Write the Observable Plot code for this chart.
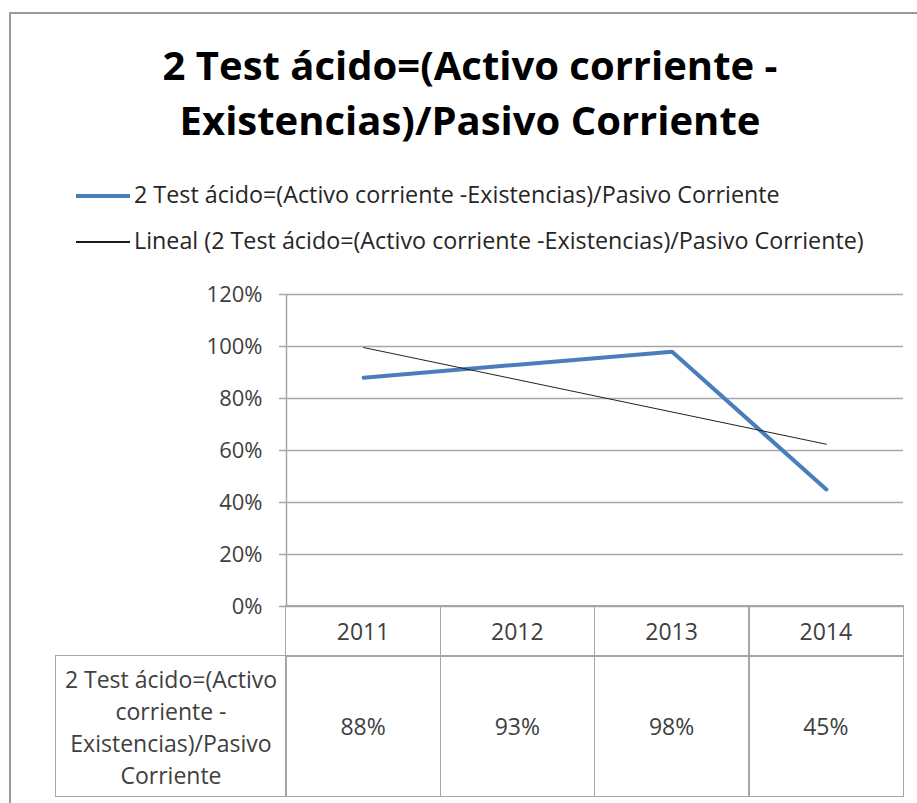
<!DOCTYPE html>
<html><head><meta charset="utf-8">
<script src="https://cdn.jsdelivr.net/npm/d3@7"></script>
<script src="https://cdn.jsdelivr.net/npm/@observablehq/plot@0.6"></script>
<style>
body{margin:0;background:#fff;width:917px;height:803px;overflow:hidden;position:relative;font-family:"Open Sans",sans-serif;}
#frame{position:absolute;left:9px;top:12px;width:1000px;height:1000px;border:2px solid #9a9a9a;box-sizing:border-box}
.title{position:absolute;left:0;width:940px;text-align:center;font-weight:bold;font-size:40px;color:#000;white-space:nowrap;line-height:1}
.leg{position:absolute;left:134px;font-size:23.3px;color:#262626;white-space:nowrap;line-height:1}
.sw{position:absolute;left:76px;width:54px}
.cell{position:absolute;box-sizing:border-box;border:1.5px solid #a6a6a6;display:flex;align-items:center;justify-content:center;text-align:center;font-size:23px;color:#404040;line-height:25px}
.cell.label{line-height:32px;padding-top:2px}
#chart{position:absolute;left:0;top:270px}
</style></head>
<body>
<div id="frame"></div>
<div id="title"></div>
<div id="legend"></div>
<div id="chart"></div>
<div id="table"></div>
<script>
const years = [2011, 2012, 2013, 2014];
const values = [0.88, 0.93, 0.98, 0.45];
const yTicks = [0, 0.2, 0.4, 0.6, 0.8, 1.0, 1.2];
const titleLines = ["2 Test ácido=(Activo corriente -", "Existencias)/Pasivo Corriente"];
const seriesName = "2 Test ácido=(Activo corriente -Existencias)/Pasivo Corriente";
const trendName = "Lineal (2 Test ácido=(Activo corriente -Existencias)/Pasivo Corriente)";
const tableLabel = "2 Test ácido=(Activo corriente - Existencias)/Pasivo Corriente";

const FONT = '"Open Sans",sans-serif';
const rows = years.map((y, i) => ({year: y, value: values[i]}));
const pct = d3.format(".0%");

// Title
const tEl = document.getElementById("title");
titleLines.forEach((t, i) => {
  const d = document.createElement("div");
  d.className = "title";
  d.style.top = (45 + i * 55) + "px";
  d.textContent = t;
  tEl.appendChild(d);
});

// Legend
const lEl = document.getElementById("legend");
[[seriesName, "#4a7ebb", 4, 196], [trendName, "#1a1a1a", 1.2, 242]].forEach(([name, col, w, cy]) => {
  const s = document.createElement("div");
  s.className = "sw";
  s.style.top = (cy - w / 2) + "px";
  s.style.height = w + "px";
  s.style.background = col;
  lEl.appendChild(s);
  const t = document.createElement("div");
  t.className = "leg";
  t.style.top = (cy - 13) + "px";
  t.textContent = name;
  lEl.appendChild(t);
});

// Chart
const chart = Plot.plot({
  width: 917, height: 351,
  marginLeft: 286, marginRight: 14, marginTop: 24, marginBottom: 15,
  style: {fontFamily: FONT, fontSize: "22px", color: "#404040", background: "transparent", overflow: "visible"},
  x: {domain: [2010.5, 2014.5], axis: null},
  y: {domain: [0, 1.2], axis: null},
  marks: [
    Plot.ruleY(yTicks, {stroke: "#a6a6a6", strokeWidth: 1.5}),
    Plot.ruleX([2010.5], {stroke: "#a6a6a6", strokeWidth: 1.5}),
    Plot.axisY({ticks: yTicks, tickFormat: pct, tickSize: 7, tickPadding: 17, stroke: "#a6a6a6", strokeWidth: 1.5, fill: "#404040", label: null}),
    Plot.line(rows, {x: "year", y: "value", stroke: "#4a7ebb", strokeWidth: 4}),
    Plot.linearRegressionY(rows, {x: "year", y: "value", stroke: "#222", strokeWidth: 1, ci: 0})
  ]
});
document.getElementById("chart").appendChild(chart);

// Data table aligned to the x scale
const x = chart.scale("x");
const yS = chart.scale("y");
const top0 = 270 + yS.apply(0);
const headH = 50, rowH = 140, labelLeft = 56;
const tab = document.getElementById("table");
function cell(left, top, w, h, text, cls) {
  const d = document.createElement("div");
  d.className = "cell" + (cls ? " " + cls : "");
  d.style.left = left + "px"; d.style.top = top + "px";
  d.style.width = w + "px"; d.style.height = h + "px";
  d.textContent = text;
  tab.appendChild(d);
}
const axisLeft = x.apply(years[0] - 0.5);
cell(labelLeft - 0.75, top0 + headH - 0.75, axisLeft - labelLeft + 1.5, rowH + 1.5, tableLabel, "label");
rows.forEach(r => {
  const l = x.apply(r.year - 0.5), rr = x.apply(r.year + 0.5);
  cell(l - 0.75, top0 - 0.75, rr - l + 1.5, headH + 1.5, String(r.year));
  cell(l - 0.75, top0 + headH - 0.75, rr - l + 1.5, rowH + 1.5, pct(r.value));
});
</script>
</body></html>
